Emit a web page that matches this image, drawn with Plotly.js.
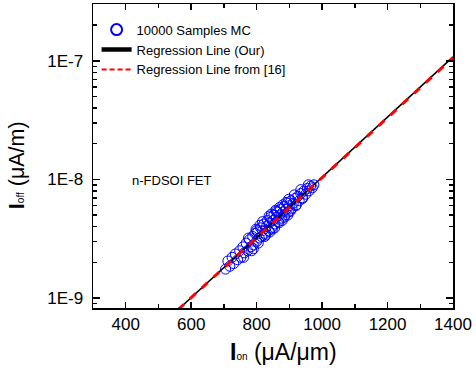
<!DOCTYPE html>
<html>
<head>
<meta charset="utf-8">
<script src="https://cdn.plot.ly/plotly-3.0.1.min.js"></script>
<style>html,body{margin:0;padding:0;background:#fff;}#chart{width:476px;height:371px;}</style>
</head>
<body>
<div id="chart"></div>
<script>
// Monte Carlo samples: Ion (uA/um) and Ioff (uA/m)
var mcIon = [705,712,718,725,730,735,742,748,752,758,
  762,768,772,778,783,788,790,795,800,803,808,812,815,818,822,826,830,833,836,840,
  843,846,850,853,856,860,864,866,870,873,876,880,884,887,890,894,897,900,905,908,
  912,917,921,926,930,935,940,945,950,955,960,965,970,975,
  810,825,845,855,870,878,890,895,800,790,860,840,
  760,775,785,798,805,818,828,838,848,858,868,880,885,898,903,915,920,935,940,958];
var mcIoff = [1.75e-9,2.05e-9,1.85e-9,2.2e-9,1.95e-9,2.35e-9,2.1e-9,2.5e-9,2.2e-9,2.7e-9,
  2.4e-9,2.9e-9,2.5e-9,3.1e-9,2.7e-9,3.3e-9,2.8e-9,3.5e-9,3.0e-9,3.6e-9,3.2e-9,3.9e-9,3.3e-9,3.7e-9,4.2e-9,3.5e-9,4.0e-9,4.5e-9,3.7e-9,4.3e-9,
  4.8e-9,3.9e-9,4.5e-9,5.0e-9,4.2e-9,4.8e-9,5.3e-9,4.4e-9,5.0e-9,5.6e-9,4.7e-9,5.3e-9,5.9e-9,5.0e-9,5.6e-9,6.3e-9,5.3e-9,6.0e-9,6.6e-9,5.7e-9,
  6.3e-9,6.9e-9,6.1e-9,7.2e-9,6.6e-9,7.6e-9,7.0e-9,8.0e-9,7.5e-9,8.4e-9,8.0e-9,8.8e-9,8.5e-9,9.0e-9,
  4.1e-9,3.3e-9,5.1e-9,3.9e-9,5.8e-9,4.5e-9,6.4e-9,5.0e-9,3.7e-9,2.6e-9,5.4e-9,3.6e-9,
  2.2e-9,3.2e-9,2.5e-9,3.8e-9,2.9e-9,4.4e-9,3.4e-9,4.9e-9,3.8e-9,5.5e-9,4.3e-9,6.1e-9,4.8e-9,6.8e-9,5.4e-9,7.4e-9,6.0e-9,8.2e-9,6.9e-9,9.0e-9];

// Regression line (ours)
var ourIon = [560, 1400];
var ourIoff = [7.96e-10, 1.081e-7];
// Regression line from [16]
var refIon = [560, 1400];
var refIoff = [7.96e-10, 1.065e-7];

var xTicks = [400, 600, 800, 1000, 1200, 1400];
var xMinor = [500, 700, 900, 1100, 1300];
var yTicks = [1e-9, 1e-8, 1e-7];
var yTickText = ['1E-9', '1E-8', '1E-7'];
var yMinor = [9e-10, 2e-9,3e-9,4e-9,5e-9,6e-9,7e-9,8e-9,9e-9,
  2e-8,3e-8,4e-8,5e-8,6e-8,7e-8,8e-8,9e-8, 2e-7,3e-7];

var legendNames = ['10000 Samples MC', 'Regression Line (Our)', 'Regression Line from [16]'];
var xTitle = '<b>I</b><span style="font-size:10px">on</span> (μA/μm)';
var yTitle = '<b>I</b><span style="font-size:10px">off</span> (μA/m)';
var noteText = 'n-FDSOI FET';

var FONT = 'Liberation Sans, Arial, sans-serif';
var BLUE = '#0000ff';

var traces = [
  {x: mcIon, y: mcIoff, type: 'scatter', mode: 'markers', showlegend: false,
   marker: {symbol: 'circle-open', size: 10, color: BLUE, line: {width: 1, color: BLUE}}},
  {x: ourIon, y: ourIoff, type: 'scatter', mode: 'lines', showlegend: false,
   line: {color: '#000', width: 1.5}},
  {x: refIon, y: refIoff, type: 'scatter', mode: 'lines', showlegend: false,
   line: {color: '#ff0000', width: 3, dash: '8px,8px'}},
  // legend entries
  {x: [null], y: [null], type: 'scatter', mode: 'markers', name: legendNames[0],
   marker: {symbol: 'circle-open', size: 11, color: BLUE, line: {width: 2, color: BLUE}}},
  {x: [null], y: [null], type: 'scatter', mode: 'lines', name: legendNames[1],
   line: {color: '#000', width: 4.5}},
  {x: [null], y: [null], type: 'scatter', mode: 'lines', name: legendNames[2],
   line: {color: '#ff0000', width: 2, dash: '5px,3px'}}
];

var layout = {
  width: 476, height: 371,
  margin: {l: 93, r: 23, t: 4, b: 63},
  paper_bgcolor: '#fff', plot_bgcolor: '#fff',
  font: {family: FONT, color: '#000'},
  showlegend: true,
  legend: {x: 0.01, y: 0.965, xanchor: 'left', yanchor: 'top', bgcolor: 'rgba(0,0,0,0)',
           font: {size: 13, family: FONT}, itemwidth: 30, tracegroupgap: 0},
  xaxis: {
    type: 'linear', range: [300, 1400],
    tickmode: 'array', tickvals: xTicks,
    ticks: 'inside', ticklen: 6, tickwidth: 1.5, tickcolor: '#000',
    showline: true, linewidth: 1.5, linecolor: '#000', mirror: 'ticks',
    showgrid: false, zeroline: false,
    tickfont: {size: 17, family: FONT},
    minor: {tickmode: 'array', tickvals: xMinor, ticks: 'inside', ticklen: 4, tickwidth: 1.5, tickcolor: '#000', showgrid: false}
  },
  yaxis: {
    type: 'log', range: [-9.085, -6.52],
    tickmode: 'array', tickvals: yTicks, ticktext: yTickText,
    ticks: 'inside', ticklen: 7, tickwidth: 1.5, tickcolor: '#000',
    showline: true, linewidth: 1.5, linecolor: '#000', mirror: 'ticks',
    showgrid: false, zeroline: false, ticklabelstandoff: 5,
    tickfont: {size: 17, family: FONT},
    minor: {tickmode: 'array', tickvals: yMinor, ticks: 'inside', ticklen: 4, tickwidth: 1.5, tickcolor: '#000', showgrid: false}
  },
  annotations: [
    {text: noteText, x: 540, y: Math.log10(9.7e-9), xref: 'x', yref: 'y',
     showarrow: false, font: {size: 13, family: FONT}},
    {text: xTitle, xref: 'paper', yref: 'paper', x: 0.529, y: -0.145, xanchor: 'center', yanchor: 'middle',
     showarrow: false, font: {size: 23, family: FONT}},
    {text: yTitle, xref: 'paper', yref: 'paper', x: -0.211, y: 0.47, xanchor: 'center', yanchor: 'middle',
     textangle: -90, showarrow: false, font: {size: 21.5, family: FONT}}
  ]
};

Plotly.newPlot('chart', traces, layout, {displayModeBar: false, staticPlot: true});
</script>
</body>
</html>
